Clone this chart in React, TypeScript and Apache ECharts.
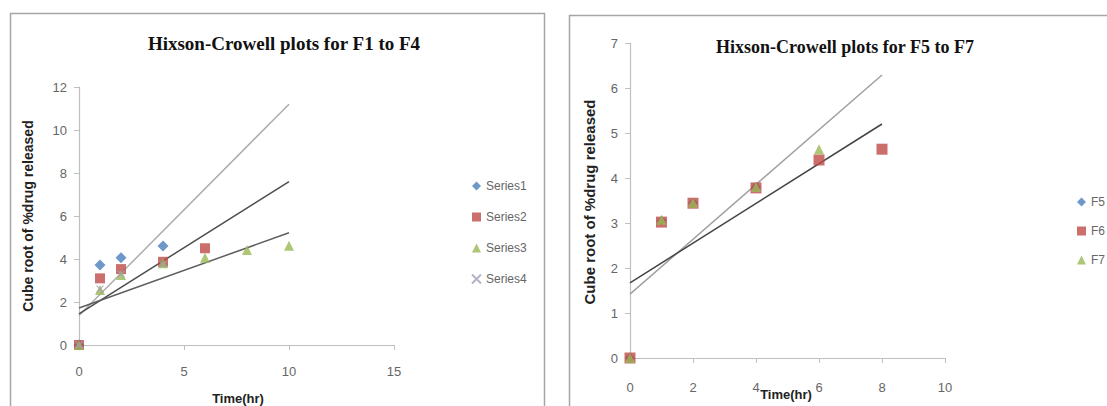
import React, { useEffect, useRef } from "react";
import * as echarts from "echarts";

// Left chart (F1 to F4)
const leftTimes1 = [0, 1, 2, 4];
const series1 = [0, 3.72, 4.06, 4.6];
const leftTimes2 = [0, 1, 2, 4, 6];
const series2 = [0, 3.1, 3.53, 3.87, 4.5];
const leftTimes3 = [0, 1, 2, 4, 6, 8, 10];
const series3 = [0, 2.56, 3.26, 3.8, 4.06, 4.42, 4.62];
const leftTimes4 = [0, 1, 2, 4];
const series4 = [0, 2.6, 3.3, 3.75];
const leftTrendX = [0, 10];
const trend1 = [1.37, 11.2];
const trend2 = [1.45, 7.6];
const trend3 = [1.72, 5.22];

// Right chart (F5 to F7)
const rightTimes5 = [0, 1, 2, 4];
const f5 = [0, 3.05, 3.45, 3.8];
const rightTimes6 = [0, 1, 2, 4, 6, 8];
const f6 = [0, 3.02, 3.44, 3.78, 4.4, 4.64];
const rightTimes7 = [0, 1, 2, 4, 6];
const f7 = [0, 3.07, 3.45, 3.8, 4.64];
const rightTrendX = [0, 8];
const trendF7 = [1.42, 6.29];
const trendF6 = [1.67, 5.2];

const leftNames = ["Series1", "Series2", "Series3", "Series4"];
const rightNames = ["F5", "F6", "F7"];

const BLUE = "#4A7EBB";
const RED = "#BE4B48";
const GREEN = "#98B954";
const XCOL = "#A69CB8";
const X_SYMBOL = "path://M0,0L10,10M10,0L0,10";

const pairs = (xs: number[], ys: number[]) => xs.map((x, i) => [x, ys[i]]);

export default function App() {
  const ref = useRef<HTMLDivElement>(null);
  useEffect(() => {
    if (!ref.current) return;
    const chart = echarts.init(ref.current, undefined, { renderer: "svg" });
    const axisLine = { show: true, lineStyle: { color: "#bfbfbf", width: 1.2 } };
    const axisTick = { show: true, length: 5, lineStyle: { color: "#bfbfbf" } };
    const labelStyle = { color: "#666", fontSize: 13, fontFamily: "Liberation Sans" };
    const scatter = (name: string, xs: number[], ys: number[], idx: number, symbol: string, size: number, color: string, z: number) => ({
      type: "scatter",
      name,
      xAxisIndex: idx,
      yAxisIndex: idx,
      data: pairs(xs, ys),
      symbol,
      symbolSize: size,
      itemStyle: { color },
      z,
    });
    const trend = (name: string, xs: number[], ys: number[], idx: number, color: string) => ({
      type: "line",
      name,
      xAxisIndex: idx,
      yAxisIndex: idx,
      data: pairs(xs, ys),
      showSymbol: false,
      symbol: "none",
      lineStyle: { color, width: 1.5 },
      z: 1,
    });
    const titleStyle = { fontFamily: "Liberation Serif", fontWeight: "bold", fontSize: 19, color: "#111" };
    const option: any = {
      animation: false,
      backgroundColor: "#fff",
      title: [
        { text: "Hixson-Crowell plots for F1 to F4", left: 279, top: 29, textAlign: "center", textStyle: titleStyle },
        { text: "Hixson-Crowell plots for F5 to F7", left: 840, top: 33, textAlign: "center", textStyle: { ...titleStyle, fontSize: 18 } },
      ],
      legend: [
        {
          data: leftNames,
          orient: "vertical",
          left: 466,
          top: 175,
          itemWidth: 9,
          itemHeight: 9,
          itemGap: 19,
          textStyle: { color: "#666", fontSize: 12, fontFamily: "Liberation Sans" },
        },
        {
          data: rightNames,
          orient: "vertical",
          left: 1072,
          top: 191,
          itemWidth: 9,
          itemHeight: 9,
          itemGap: 17,
          textStyle: { color: "#666", fontSize: 12, fontFamily: "Liberation Sans" },
        },
      ],
      grid: [
        { left: 79, top: 87, width: 315, height: 258 },
        { left: 630, top: 43, width: 315, height: 315 },
      ],
      xAxis: [
        {
          gridIndex: 0, type: "value", min: 0, max: 15, interval: 5,
          axisLine, axisTick, splitLine: { show: false },
          axisLabel: { ...labelStyle, margin: 20 },
        },
        {
          gridIndex: 1, type: "value", min: 0, max: 10, interval: 2,
          axisLine, axisTick, splitLine: { show: false },
          axisLabel: { ...labelStyle, margin: 23 },
        },
      ],
      yAxis: [
        {
          gridIndex: 0, type: "value", min: 0, max: 12, interval: 2,
          axisLine, axisTick, splitLine: { show: false },
          axisLabel: { ...labelStyle, margin: 12 },
        },
        {
          gridIndex: 1, type: "value", min: 0, max: 7, interval: 1,
          axisLine, axisTick, splitLine: { show: false },
          axisLabel: { ...labelStyle, margin: 12 },
        },
      ],
      graphic: [
        { type: "rect", shape: { x: 10.5, y: 13.5, width: 534, height: 420 }, style: { fill: "none", stroke: "#a6a6a6", lineWidth: 1.5 }, silent: true },
        { type: "rect", shape: { x: 569.5, y: 15.5, width: 600, height: 420 }, style: { fill: "none", stroke: "#a6a6a6", lineWidth: 1.5 }, silent: true },
        {
          type: "text", x: 28, y: 216, rotation: Math.PI / 2,
          style: { text: "Cube root of %drug released", align: "center", verticalAlign: "middle", font: "bold 14px 'Liberation Sans'", fill: "#222" },
        },
        {
          type: "text", x: 589, y: 202, rotation: Math.PI / 2,
          style: { text: "Cube root of %drug released", align: "center", verticalAlign: "middle", font: "bold 15px 'Liberation Sans'", fill: "#222" },
        },
        {
          type: "text", x: 238, y: 398,
          style: { text: "Time(hr)", align: "center", verticalAlign: "middle", font: "bold 13px 'Liberation Sans'", fill: "#222" },
        },
        {
          type: "text", x: 786, y: 394,
          style: { text: "Time(hr)", align: "center", verticalAlign: "middle", font: "bold 13px 'Liberation Sans'", fill: "#222" },
        },
      ],
      series: [
        trend("trend1", leftTrendX, trend1, 0, "#adadad"),
        trend("trend2", leftTrendX, trend2, 0, "#4d4d4d"),
        trend("trend3", leftTrendX, trend3, 0, "#5e5e5e"),
        scatter("Series1", leftTimes1, series1, 0, "diamond", 11, BLUE, 2),
        scatter("Series2", leftTimes2, series2, 0, "rect", 10, RED, 3),
        scatter("Series3", leftTimes3, series3, 0, "triangle", 10, GREEN, 4),
        {
          ...scatter("Series4", leftTimes4, series4, 0, X_SYMBOL, 7, XCOL, 5),
          itemStyle: { color: "transparent", borderColor: XCOL, borderWidth: 1.3 },
        },
        trend("trendF7", rightTrendX, trendF7, 1, "#a0a0a0"),
        trend("trendF6", rightTrendX, trendF6, 1, "#444444"),
        scatter("F5", rightTimes5, f5, 1, "diamond", 10, BLUE, 2),
        scatter("F6", rightTimes6, f6, 1, "rect", 11, RED, 3),
        scatter("F7", rightTimes7, f7, 1, "triangle", 10, GREEN, 4),
      ],
    };
    chart.setOption(option);
    return () => chart.dispose();
  }, []);
  return <div ref={ref} style={{ position: "absolute", left: 0, top: 0, width: 1107, height: 406 }} />;
}
